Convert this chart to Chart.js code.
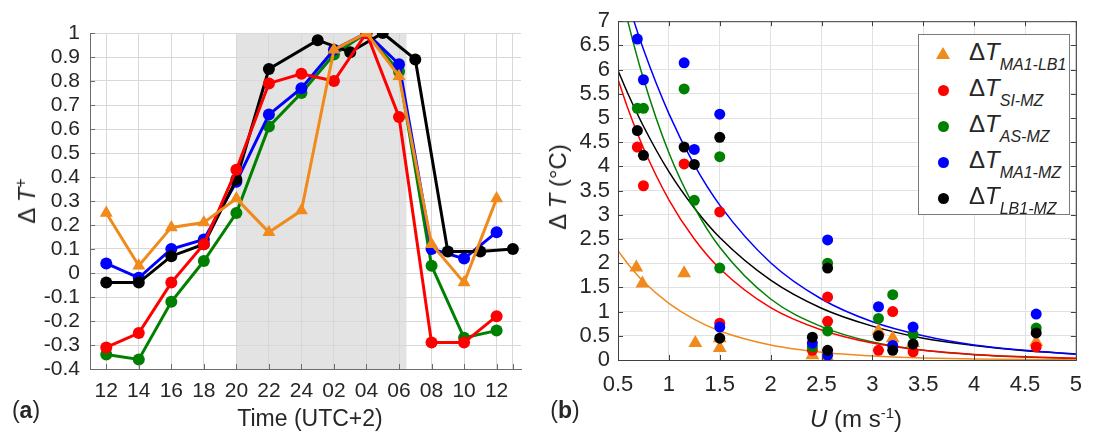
<!DOCTYPE html>
<html>
<head>
<meta charset="utf-8">
<script src="https://cdn.jsdelivr.net/npm/chart.js@4.4.1/dist/chart.umd.min.js"></script>
<style>
  body { margin: 0; background: #fff; font-family: "Liberation Sans", Arial, sans-serif; color: #262626; }
  #page { position: relative; width: 1094px; height: 434px; overflow: hidden; }
  canvas { position: absolute; top: 0; }
  .lbl { position: absolute; white-space: nowrap; transform: translate(-50%, -50%); line-height: 1; }
  .rot { transform: translate(-50%, -50%) rotate(-90deg); }
  #legend { position: absolute; left: 918px; top: 34px; width: 152px; height: 181px; border: 1px solid #7a7a7a; background: #fff; box-sizing: border-box; }
  .row { position: absolute; left: 0; height: 36px; width: 150px; }
  .dot { position: absolute; left: 19px; top: 13px; width: 11px; height: 11px; border-radius: 50%; }
  .tri { position: absolute; left: 17px; top: 11px; width: 0; height: 0; border-left: 7px solid transparent; border-right: 7px solid transparent; border-bottom: 12px solid #f08a1c; }
  .ltxt { position: absolute; left: 50px; top: 2px; font-size: 24px; white-space: nowrap; }
  .ltxt sub { font-size: 16px; font-style: italic; position: relative; top: 4px; }
</style>
</head>
<body>
<div id="page">
  <canvas id="chartA" width="540" height="434" style="left:0"></canvas>
  <canvas id="chartB" width="554" height="434" style="left:540px"></canvas>

  <div class="lbl rot" style="left:26px; top:201px; font-size:24px;">&Delta; <i>T</i><sup style="font-size:16px">+</sup></div>
  <div class="lbl" style="left:310px; top:418px; font-size:23px;">Time (UTC+2)</div>
  <div class="lbl" style="left:26px; top:410px; font-size:23px;">(<b>a</b>)</div>

  <div class="lbl rot" style="left:558px; top:187px; font-size:24px;">&Delta; <i>T</i> (°C)</div>
  <div class="lbl" style="left:856px; top:418px; font-size:24px;"><i>U</i> (m s<sup style="font-size:15px">-1</sup>)</div>
  <div class="lbl" style="left:565px; top:410px; font-size:23px;">(<b>b</b>)</div>

  <div id="legend">
    <div class="row" style="top:1px"><div class="tri"></div><div class="ltxt">&Delta;<i>T</i><sub>MA1-LB1</sub></div></div>
    <div class="row" style="top:37px"><div class="dot" style="background:#ff0000"></div><div class="ltxt">&Delta;<i>T</i><sub>SI-MZ</sub></div></div>
    <div class="row" style="top:73px"><div class="dot" style="background:#008000"></div><div class="ltxt">&Delta;<i>T</i><sub>AS-MZ</sub></div></div>
    <div class="row" style="top:109px"><div class="dot" style="background:#0000ff"></div><div class="ltxt">&Delta;<i>T</i><sub>MA1-MZ</sub></div></div>
    <div class="row" style="top:145px"><div class="dot" style="background:#000000"></div><div class="ltxt">&Delta;<i>T</i><sub>LB1-MZ</sub></div></div>
  </div>
</div>

<script>
// ---- panel (a): normalised temperature difference over the day ----
const timeLabels = ['12', '14', '16', '18', '20', '22', '24', '02', '04', '06', '08', '10', '12'];
const timeIdx = [0, 1, 2, 3, 4, 5, 6, 7, 8, 9, 10, 11, 12];
const timeIdxLB1 = [0, 1, 2, 3, 4, 5, 6.5, 7.5, 8.5, 9.5, 10.5, 11.5, 12.5];
const xTicksA = [0, 1, 2, 3, 4, 5, 6, 7, 8, 9, 10, 11, 12, 12.5];

const aMA1LB1 = [0.25, 0.03, 0.19, 0.21, 0.31, 0.17, 0.26, 0.93, 1.0, 0.82, 0.12, -0.04, 0.31];
const aSIMZ   = [-0.31, -0.25, -0.04, 0.12, 0.43, 0.79, 0.83, 0.80, 1.0, 0.65, -0.29, -0.29, -0.18];
const aASMZ   = [-0.34, -0.36, -0.12, 0.05, 0.25, 0.61, 0.75, 0.91, 1.0, 0.84, 0.03, -0.27, -0.24];
const aMA1MZ  = [0.04, -0.02, 0.10, 0.14, 0.38, 0.66, 0.77, 0.93, 1.0, 0.87, 0.10, 0.06, 0.17];
const aLB1MZ  = [-0.04, -0.04, 0.07, 0.12, 0.39, 0.85, 0.97, 0.92, 1.0, 0.89, 0.09, 0.09, 0.10];

// night period (grey band), in the same index units as the x axis
const nightFrom = 4;
const nightTo = 9.23;

// ---- panel (b): temperature difference vs wind speed ----
const uMA1LB1 = [0.68, 0.74, 1.15, 1.26, 1.5, 1.5, 2.41, 2.56, 3.06, 3.2, 3.4, 4.61];
const vMA1LB1 = [1.91, 1.58, 1.79, 0.35, 0.25, 0.45, 0.10, 0.05, 0.60, 0.45, 0.35, 0.37];
const uSIMZ = [0.69, 0.75, 1.15, 1.5, 1.5, 2.41, 2.56, 2.56, 3.06, 3.2, 3.4, 4.61];
const vSIMZ = [4.4, 3.6, 4.05, 3.06, 0.76, 0.2, 1.3, 0.8, 0.2, 1.0, 0.17, 0.27];
const uASMZ = [0.69, 0.75, 1.15, 1.25, 1.5, 1.5, 2.41, 2.56, 2.56, 3.06, 3.2, 3.4, 4.61];
const vASMZ = [5.2, 5.2, 5.6, 3.3, 4.2, 1.9, 0.27, 2.0, 0.6, 0.86, 1.35, 0.53, 0.66];
const uMA1MZ = [0.69, 0.75, 1.15, 1.25, 1.5, 1.5, 2.41, 2.56, 2.56, 3.06, 3.2, 3.4, 4.61];
const vMA1MZ = [6.63, 5.79, 6.14, 4.35, 5.08, 0.68, 0.35, 2.48, 0.1, 1.1, 0.3, 0.68, 0.95];
const uLB1MZ = [0.69, 0.75, 1.15, 1.25, 1.5, 1.5, 2.41, 2.56, 2.56, 3.06, 3.2, 3.4, 4.61];
const vLB1MZ = [4.74, 4.23, 4.4, 4.04, 4.6, 0.45, 0.47, 1.9, 0.2, 0.5, 0.2, 0.33, 0.56];

// fitted curves
const fitU       = [0.5, 0.6, 0.75, 1, 1.25, 1.5, 2, 2.5, 3, 3.5, 4, 4.5, 5];
const fitMA1LB1  = [2.26, 1.98, 1.62, 1.17, 0.84, 0.60, 0.31, 0.16, 0.083, 0.043, 0.022, 0.011, 0.006];
const fitSIMZ    = [5.80, 5.18, 4.38, 3.31, 2.50, 1.89, 1.08, 0.62, 0.35, 0.20, 0.115, 0.066, 0.038];
const fitASMZ    = [7.88, 6.97, 5.81, 4.28, 3.16, 2.33, 1.26, 0.69, 0.37, 0.20, 0.11, 0.06, 0.03];
const fitMA1MZ   = [8.10, 7.38, 6.42, 5.09, 4.03, 3.20, 2.01, 1.26, 0.79, 0.50, 0.31, 0.20, 0.12];
const fitLB1MZ   = [5.98, 5.49, 4.83, 3.89, 3.14, 2.53, 1.65, 1.07, 0.70, 0.45, 0.30, 0.19, 0.125];

const ORANGE = '#f08a1c', RED = '#ff0000', GREEN = '#008000', BLUE = '#0000ff', BLACK = '#000000';
const FONT = 'Liberation Sans, Arial, sans-serif';

const pts = (xs, ys) => ys.map((y, i) => ({ x: xs[i], y: y }));
const fmt = v => String(+v.toFixed(1));

// grey band for the night hours, drawn under the grid
const nightBand = {
  id: 'nightBand',
  beforeDraw(chart) {
    const { ctx, chartArea, scales } = chart;
    const x0 = scales.x.getPixelForValue(nightFrom);
    const x1 = scales.x.getPixelForValue(nightTo);
    ctx.save();
    ctx.fillStyle = '#e3e3e3';
    ctx.fillRect(x0, chartArea.top, x1 - x0, chartArea.bottom - chartArea.top);
    ctx.restore();
  }
};

// small inward tick marks like in MATLAB
function innerTicks(chart, sides, color) {
  const { ctx, chartArea: a, scales } = chart;
  ctx.save();
  ctx.strokeStyle = color;
  ctx.lineWidth = 1;
  ctx.beginPath();
  scales.x.ticks.forEach(t => {
    const px = Math.round(scales.x.getPixelForValue(t.value)) + 0.5;
    if (sides.includes('bottom')) { ctx.moveTo(px, a.bottom); ctx.lineTo(px, a.bottom - 5); }
    if (sides.includes('top')) { ctx.moveTo(px, a.top); ctx.lineTo(px, a.top + 5); }
  });
  scales.y.ticks.forEach(t => {
    const py = Math.round(scales.y.getPixelForValue(t.value)) + 0.5;
    if (sides.includes('left')) { ctx.moveTo(a.left, py); ctx.lineTo(a.left + 5, py); }
    if (sides.includes('right')) { ctx.moveTo(a.right, py); ctx.lineTo(a.right - 5, py); }
  });
  ctx.stroke();
  ctx.restore();
}

const ticksA = { id: 'ticksA', afterDraw(chart) { innerTicks(chart, ['bottom', 'left'], '#6b6b6b'); } };
const frameB = {
  id: 'frameB',
  afterDraw(chart) {
    const { ctx, chartArea: a } = chart;
    ctx.save();
    ctx.strokeStyle = '#404040';
    ctx.lineWidth = 1;
    ctx.strokeRect(a.left + 0.5, a.top + 0.5, a.right - a.left, a.bottom - a.top);
    ctx.restore();
    innerTicks(chart, ['bottom', 'left', 'top', 'right'], '#404040');
  }
};

function lineSet(label, xs, ys, color, style, order) {
  return {
    label: label,
    data: pts(xs, ys),
    borderColor: color,
    backgroundColor: color,
    borderWidth: 3,
    pointStyle: style,
    pointRadius: style === 'triangle' ? 7.5 : 6,
    pointBorderWidth: 0,
    order: order
  };
}

new Chart(document.getElementById('chartA'), {
  type: 'line',
  data: {
    datasets: [
      lineSet('ΔT MA1-LB1', timeIdx, aMA1LB1, ORANGE, 'triangle', 1),
      lineSet('ΔT SI-MZ', timeIdx, aSIMZ, RED, 'circle', 2),
      lineSet('ΔT LB1-MZ', timeIdxLB1, aLB1MZ, BLACK, 'circle', 3),
      lineSet('ΔT MA1-MZ', timeIdx, aMA1MZ, BLUE, 'circle', 4),
      lineSet('ΔT AS-MZ', timeIdx, aASMZ, GREEN, 'circle', 5)
    ]
  },
  options: {
    responsive: false,
    animation: false,
    layout: { padding: { top: 33, right: 19, left: 0, bottom: 0 } },
    plugins: { legend: { display: false }, tooltip: { enabled: false } },
    scales: {
      x: {
        type: 'linear',
        min: -0.5,
        max: 12.75,
        afterBuildTicks: s => { s.ticks = xTicksA.map(v => ({ value: v })); },
        afterFit: s => { s.height = 65; },
        ticks: {
          autoSkip: false,
          maxRotation: 0,
          padding: 10,
          color: '#262626',
          font: { family: FONT, size: 21 },
          callback: (v, i) => timeLabels[i] ?? ''
        },
        grid: { color: '#d8d8d8', drawTicks: false },
        border: { color: '#6b6b6b' }
      },
      y: {
        min: -0.4,
        max: 1,
        afterFit: s => { s.width = 90; },
        ticks: {
          stepSize: 0.1,
          autoSkip: false,
          padding: 10,
          color: '#262626',
          font: { family: FONT, size: 21 },
          callback: v => fmt(v)
        },
        grid: { color: '#d8d8d8', drawTicks: false },
        border: { color: '#6b6b6b' }
      }
    }
  },
  plugins: [nightBand, ticksA]
});

function scatterSet(label, xs, ys, color, style, order) {
  return {
    type: 'scatter',
    label: label,
    data: pts(xs, ys),
    backgroundColor: color,
    borderColor: color,
    pointStyle: style,
    pointRadius: style === 'triangle' ? 8 : 5.5,
    pointBorderWidth: 0,
    order: order
  };
}

function fitSet(label, ys, color, order) {
  return {
    type: 'line',
    label: label,
    data: pts(fitU, ys),
    borderColor: color,
    borderWidth: 1.5,
    pointRadius: 0,
    cubicInterpolationMode: 'monotone',
    order: order
  };
}

new Chart(document.getElementById('chartB'), {
  type: 'scatter',
  data: {
    datasets: [
      scatterSet('ΔT LB1-MZ', uLB1MZ, vLB1MZ, BLACK, 'circle', 1),
      scatterSet('ΔT MA1-MZ', uMA1MZ, vMA1MZ, BLUE, 'circle', 2),
      scatterSet('ΔT AS-MZ', uASMZ, vASMZ, GREEN, 'circle', 3),
      scatterSet('ΔT SI-MZ', uSIMZ, vSIMZ, RED, 'circle', 4),
      scatterSet('ΔT MA1-LB1', uMA1LB1, vMA1LB1, ORANGE, 'triangle', 5),
      fitSet('fit MA1-LB1', fitMA1LB1, ORANGE, 6),
      fitSet('fit SI-MZ', fitSIMZ, RED, 7),
      fitSet('fit AS-MZ', fitASMZ, GREEN, 8),
      fitSet('fit MA1-MZ', fitMA1MZ, BLUE, 9),
      fitSet('fit LB1-MZ', fitLB1MZ, BLACK, 10)
    ]
  },
  options: {
    responsive: false,
    animation: false,
    layout: { padding: { top: 19, right: 11, left: 0, bottom: 0 } },
    plugins: { legend: { display: false }, tooltip: { enabled: false } },
    scales: {
      x: {
        type: 'linear',
        min: 0.5,
        max: 5,
        afterFit: s => { s.height = 74; },
        ticks: {
          stepSize: 0.5,
          autoSkip: false,
          padding: 12,
          maxRotation: 0,
          color: '#262626',
          font: { family: FONT, size: 22 },
          callback: v => fmt(v)
        },
        grid: { color: '#e1e1e1', drawTicks: false },
        border: { color: '#404040' }
      },
      y: {
        min: 0,
        max: 7,
        afterFit: s => { s.width = 78; },
        ticks: {
          stepSize: 0.5,
          autoSkip: false,
          padding: 8,
          color: '#262626',
          font: { family: FONT, size: 22 },
          callback: v => fmt(v)
        },
        grid: { color: '#e1e1e1', drawTicks: false },
        border: { color: '#404040' }
      }
    }
  },
  plugins: [frameB]
});
</script>
</body>
</html>
